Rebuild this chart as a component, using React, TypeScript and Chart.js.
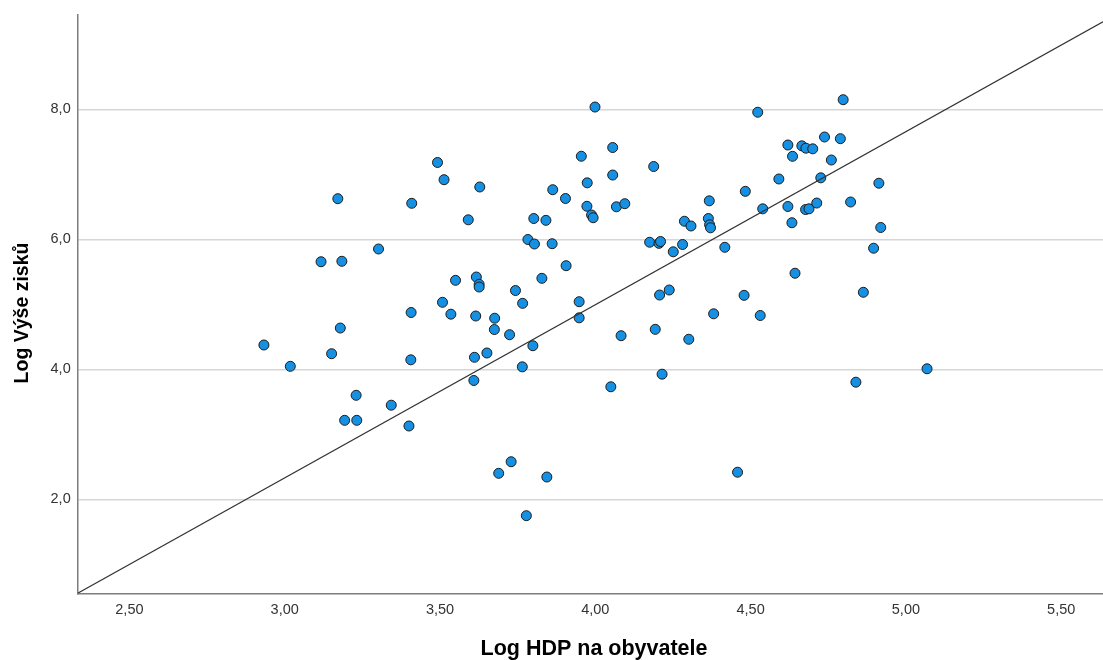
import React, { useEffect, useRef } from 'react';
import { Chart, registerables } from 'chart.js';

Chart.register(...registerables);

const W = 1103;
const H = 660;

const xTitle = 'Log HDP na obyvatele';
const yTitle = 'Log Výše zisků';

const xTicks = [2.5, 3.0, 3.5, 4.0, 4.5, 5.0, 5.5];
const yTicks = [2.0, 4.0, 6.0, 8.0];

const xRange = [2.3335, 5.6346];
const yRange = [0.554, 9.451];

const hdp = [
  2.933, 3.018, 3.117, 3.171, 3.184, 3.179, 3.151, 3.193, 3.232, 3.230,
  3.302, 3.343, 3.400, 3.409, 3.407, 3.406, 3.492, 3.513, 3.508, 3.535,
  3.550, 3.591, 3.615, 3.617, 3.626, 3.626, 3.628, 3.611, 3.651, 3.609,
  3.676, 3.675, 3.724, 3.689, 3.729, 3.743, 3.766, 3.765, 3.778, 3.844,
  3.799, 3.783, 3.804, 3.861, 3.802, 3.841, 3.863, 3.904, 3.906, 3.828,
  3.948, 3.948, 3.955, 3.974, 3.973, 3.988, 3.993, 3.999, 4.056, 4.056,
  4.068, 4.095, 4.083, 4.050, 4.188, 4.175, 4.205, 4.210, 4.193, 4.207,
  4.238, 4.215, 4.251, 4.281, 4.287, 4.308, 4.301, 4.367, 4.364, 4.368,
  4.371, 4.417, 4.381, 4.458, 4.479, 4.483, 4.523, 4.531, 4.539, 4.591,
  4.620, 4.620, 4.635, 4.633, 4.643, 4.665, 4.678, 4.700, 4.677, 4.688,
  4.713, 4.726, 4.738, 4.760, 4.789, 4.798, 4.822, 4.839, 4.863, 4.896,
  4.913, 4.919, 5.068,
];

const zisk = [
  4.374, 4.046, 5.655, 6.625, 5.662, 4.635, 4.240, 3.215, 3.215, 3.600,
  5.851, 3.448, 3.128, 6.554, 4.874, 4.146, 7.182, 6.917, 5.031, 4.848,
  5.369, 6.300, 4.820, 5.420, 5.308, 5.266, 6.805, 4.185, 4.251, 3.828,
  4.786, 4.612, 4.532, 2.400, 2.578, 5.212, 5.015, 4.038, 1.748, 2.343,
  4.363, 5.997, 5.928, 5.932, 6.320, 6.292, 6.763, 6.628, 5.594, 5.400,
  5.040, 4.792, 7.278, 6.869, 6.508, 6.374, 6.332, 8.035, 7.412, 6.989,
  6.500, 6.548, 4.517, 3.731, 7.120, 5.955, 5.938, 5.966, 4.615, 5.143,
  5.220, 3.925, 5.808, 5.920, 6.278, 6.205, 4.462, 6.592, 6.320, 6.223,
  6.177, 5.877, 4.854, 2.417, 5.138, 6.738, 7.955, 4.828, 6.469, 6.928,
  7.451, 6.505, 7.277, 6.255, 5.478, 7.438, 7.402, 7.392, 6.458, 6.469,
  6.558, 6.946, 7.574, 7.220, 7.548, 8.148, 6.574, 3.802, 5.185, 5.863,
  6.863, 6.182, 4.008,
];

const lineX = [2.3335, 5.6346];
const lineY = [0.554, 9.348];

const FONT = '"Liberation Sans", Arial, sans-serif';

export default function App() {
  const ref = useRef<HTMLCanvasElement>(null);

  useEffect(() => {
    document.body.style.margin = '0';
    const canvas = ref.current;
    if (!canvas) return;

    const titlePlugin = {
      id: 'axisTitles',
      afterDraw(chart: any) {
        const c = chart.ctx;
        c.save();
        c.fillStyle = '#000000';
        c.textAlign = 'center';
        c.textBaseline = 'alphabetic';
        c.font = `bold 21.5px ${FONT}`;
        c.fillText(xTitle, 594, 655);
        c.font = `bold 19.5px ${FONT}`;
        c.translate(28, 313);
        c.rotate(-Math.PI / 2);
        c.fillText(yTitle, 0, 0);
        c.restore();
      },
    };

    const points = hdp.map((x, i) => ({ x, y: zisk[i] }));
    const linePts = lineX.map((x, i) => ({ x, y: lineY[i] }));

    const chart = new Chart(canvas, {
      type: 'scatter',
      data: {
        datasets: [
          {
            label: 'fit',
            data: linePts,
            showLine: true,
            borderColor: '#333333',
            borderWidth: 1.3,
            pointRadius: 0,
            order: 0,
          } as any,
          {
            label: 'data',
            data: points,
            backgroundColor: '#1590e2',
            borderColor: '#1c1c1c',
            borderWidth: 1,
            pointRadius: 5,
            order: 1,
          },
        ],
      },
      options: {
        responsive: false,
        animation: false,
        devicePixelRatio: 1,
        layout: { autoPadding: false, padding: { top: 15, right: 0, left: 0, bottom: 0 } },
        plugins: {
          legend: { display: false },
          tooltip: { enabled: false },
          title: { display: false },
        },
        scales: {
          x: {
            type: 'linear',
            min: xRange[0],
            max: xRange[1],
            afterBuildTicks: (scale: any) => {
              scale.ticks = xTicks.map((v) => ({ value: v }));
            },
            afterFit: (scale: any) => {
              scale.height = H - 593.3;
              scale.paddingLeft = 0;
              scale.paddingRight = 0;
            },
            ticks: {
              autoSkip: false,
              maxRotation: 0,
              padding: 8,
              color: '#333333',
              font: { family: FONT, size: 14.5 },
              callback: (v: any) => Number(v).toFixed(2).replace('.', ','),
            },
            grid: { display: false, drawTicks: false },
            border: { display: true, color: '#7d7d7d', width: 1.5 },
          },
          y: {
            type: 'linear',
            min: yRange[0],
            max: yRange[1],
            afterBuildTicks: (scale: any) => {
              scale.ticks = yTicks.map((v) => ({ value: v }));
            },
            afterFit: (scale: any) => {
              scale.width = 77.7;
              scale.paddingTop = 0;
              scale.paddingBottom = 0;
            },
            ticks: {
              autoSkip: false,
              padding: 7,
              color: '#333333',
              font: { family: FONT, size: 14.5 },
              callback: (v: any) => Number(v).toFixed(1).replace('.', ','),
            },
            grid: {
              display: true,
              drawTicks: false,
              color: '#d6d6d6',
              lineWidth: 1.5,
            },
            border: { display: true, color: '#7d7d7d', width: 1.5 },
          },
        },
      },
      plugins: [titlePlugin],
    });

    return () => {
      chart.destroy();
    };
  }, []);

  return (
    <div style={{ position: 'absolute', left: 0, top: 0, width: W, height: H, background: '#ffffff' }}>
      <canvas ref={ref} width={W} height={H} style={{ display: 'block', width: W, height: H }} />
    </div>
  );
}
